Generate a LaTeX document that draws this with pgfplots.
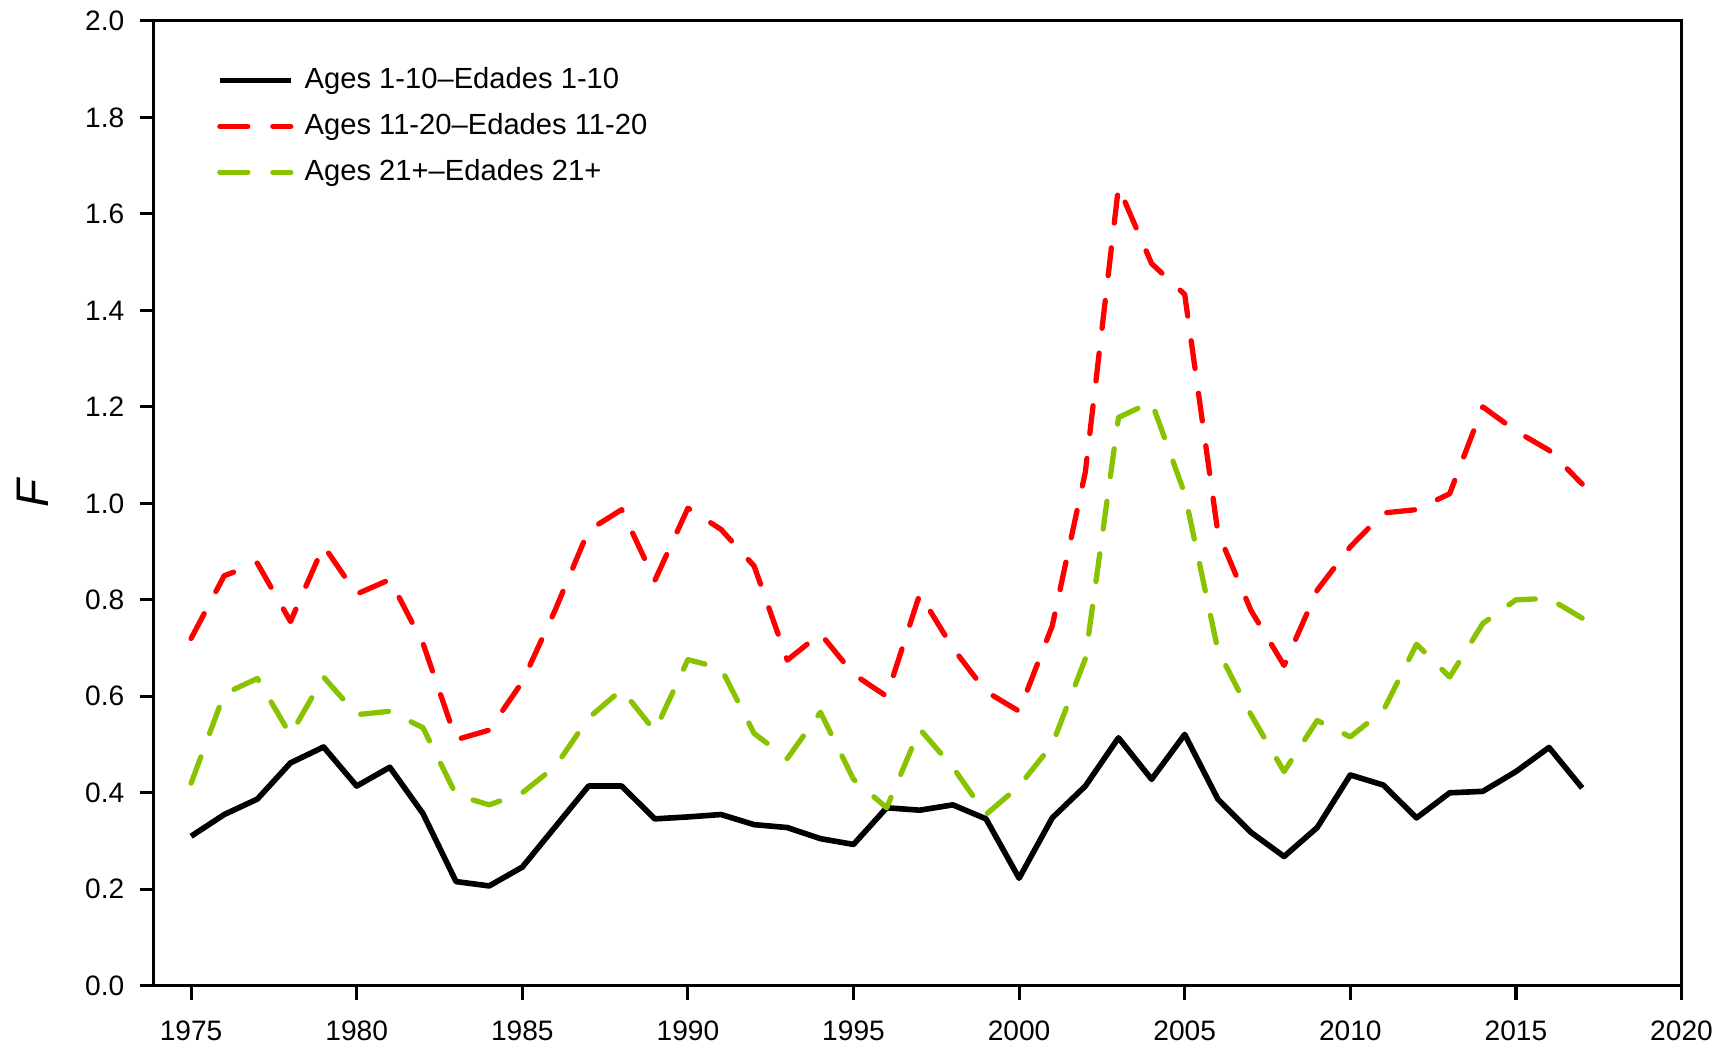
\documentclass[border=0pt]{standalone}
\usepackage{fontspec}
\setmainfont{Liberation Sans}
\usepackage{pgfplots}
\usepackage{pgfplotstable}
\pgfplotsset{compat=1.18}

\definecolor{agered}{RGB}{255,0,0}
\definecolor{agegreen}{RGB}{136,194,0}

% year, ages 1-10, ages 11-20, ages 21+
\pgfplotstableread{
year  a     b     c
1975  0.31  0.72  0.42
1976  0.355 0.85  0.605
1977  0.387 0.876 0.637
1978  0.462 0.755 0.52
1979  0.495 0.912 0.64
1980  0.414 0.812 0.562
1981  0.453 0.842 0.569
1982  0.357 0.71  0.535
1983  0.216 0.51  0.396
1984  0.207 0.53  0.375
1985  0.246 0.63  0.40
1986  0.33  0.78  0.455
1987  0.414 0.944 0.555
1988  0.414 0.987 0.614
1989  0.346 0.84  0.528
1990  0.350 0.99  0.676
1991  0.355 0.946 0.658
1992  0.334 0.87  0.523
1993  0.328 0.675 0.471
1994  0.305 0.73  0.567
1995  0.293 0.646 0.428
1996  0.369 0.60  0.369
1997  0.364 0.812 0.532
1998  0.375 0.70  0.453
1999  0.346 0.61  0.355
2000  0.223 0.569 0.414
2001  0.348 0.746 0.50
2002  0.414 1.065 0.678
2003  0.514 1.656 1.178
2004  0.428 1.497 1.21
2005  0.521 1.433 1.02
2006  0.387 0.94  0.696
2007  0.318 0.778 0.562
2008  0.268 0.664 0.444
2009  0.328 0.82  0.55
2010  0.437 0.91  0.516
2011  0.416 0.98  0.571
2012  0.348 0.987 0.708
2013  0.400 1.02  0.64
2014  0.403 1.20  0.751
2015  0.444 1.15  0.80
2016  0.494 1.11  0.803
2017  0.41  1.04  0.762
}\Fdata

\begin{document}
\begin{tikzpicture}
\begin{axis}[
    scale only axis,
    width=15.28cm,
    height=9.65cm,
    xmin=1973.87, xmax=2020,
    ymin=0, ymax=2,
    xtick={1975,1980,...,2020},
    ytick={0,0.2,...,2.01},
    tick align=outside,
    xtick pos=bottom,
    ytick pos=left,
    major tick length=1.4mm,
    axis line style={line width=0.9pt},
    every tick/.style={black, line width=0.9pt},
    tick label style={font=\fontsize{8}{9.6}\selectfont},
    /pgf/number format/assume math mode=true,
    xticklabel style={/pgf/number format/1000 sep={}, yshift=-0.9mm},
    yticklabel style={/pgf/number format/.cd, fixed, fixed zerofill, precision=1, /tikz/.cd, xshift=-0.3mm},
    ylabel={\itshape F},
    ylabel style={font=\fontsize{13}{15}\selectfont, at={(axis description cs:-0.079,0.51)}, anchor=center},
    legend style={at={(axis description cs:0.041,0.96)}, anchor=north west,
        draw=none, fill=none, font=\fontsize{8.3}{10}\selectfont,
        row sep=0.55mm, inner sep=0pt,
        nodes={inner xsep=1.1mm}},
    legend cell align=left,
    legend image code/.code={\draw[#1] (0cm,0cm) -- (0.71cm,0cm);},
]
\addplot[black, line width=1.6pt, line join=round] table[x=year, y=a] {\Fdata};
\addlegendentry{Ages 1-10--Edades 1-10}
\addplot[agered, line width=1.5pt, line cap=round, line join=round, dash pattern=on 2.8mm off 2.5mm] table[x=year, y=b] {\Fdata};
\addlegendentry{Ages 11-20--Edades 11-20}
\addplot[agegreen, line width=1.5pt, line cap=round, line join=round, dash pattern=on 2.8mm off 2.5mm] table[x=year, y=c] {\Fdata};
\addlegendentry{Ages 21+--Edades 21+}
\end{axis}
\pgfresetboundingbox
\useasboundingbox ([shift={(-1.537cm,-0.604cm)}]current axis.south west) rectangle ([shift={(0.395cm,0.209cm)}]current axis.north east);
\end{tikzpicture}
\end{document}
